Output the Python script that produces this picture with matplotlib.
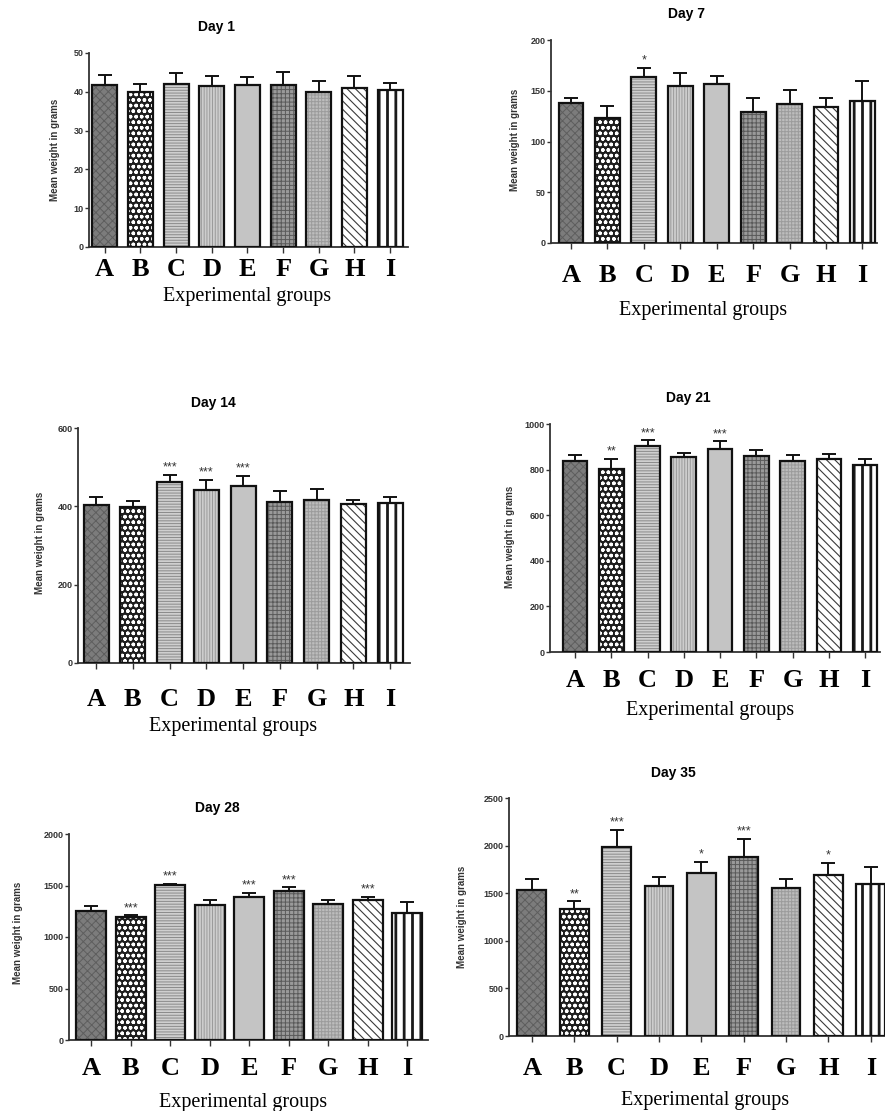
import numpy as np
import matplotlib.pyplot as plt

groups = ['A', 'B', 'C', 'D', 'E', 'F', 'G', 'H', 'I']

# mean weight (g) and upper SD
day1_mean = [41.7, 40.0, 42.1, 41.5, 41.7, 41.7, 39.9, 40.9, 40.4]
day1_err = [2.6, 2.1, 2.8, 2.6, 2.0, 3.5, 2.8, 3.1, 1.9]
day1_sig = ['', '', '', '', '', '', '', '', '']

day7_mean = [137.7, 123.6, 163.3, 155, 157, 129, 137, 134.4, 139.7]
day7_err = [4.9, 11.4, 9.5, 12, 8, 14, 14, 8.6, 19.6]
day7_sig = ['', '', '*', '', '', '', '', '', '']

day14_mean = [404, 399, 463, 442, 453, 411, 417, 407, 408]
day14_err = [21, 14, 17, 26, 25, 27, 26, 10, 15]
day14_sig = ['', '', '***', '***', '***', '', '', '', '']

day21_mean = [839, 802, 905, 855, 890, 858, 839, 847, 820]
day21_err = [26, 44, 23, 17, 34, 26, 25, 20, 26]
day21_sig = ['', '**', '***', '', '***', '', '', '', '']

day28_mean = [1248, 1190, 1501, 1313, 1384, 1449, 1322, 1361, 1232]
day28_err = [49, 19, 16, 48, 42, 32, 39, 26, 107]
day28_sig = ['', '***', '***', '', '***', '***', '', '***', '']

day35_mean = [1529, 1339, 1985, 1571, 1711, 1879, 1550, 1694, 1599]
day35_err = [122, 74, 182, 94, 116, 193, 98, 122, 175]
day35_sig = ['', '**', '***', '', '*', '***', '', '*', '']

# fill styles per group: face, hatch, hatch colour, hatch line width
faces = ['#7c7c7c', '#1e1e1e', '#cfcfcf', '#cdcdcd', '#c4c4c4', '#9a9a9a', '#bdbdbd', '#ffffff', '#ffffff']
hatches = ['xxxx', 'ooo', '------', '||||||', '', '++++', '+++++', '\\\\\\\\', '||']
hcolors = ['#5e5e5e', '#ffffff', '#8a8a8a', '#9a9a9a', '#c4c4c4', '#5a5a5a', '#9c9c9c', '#3a3a3a', '#1a1a1a']
hwidths = [0.7, 1.0, 0.7, 0.7, 0.7, 0.7, 0.7, 0.8, 2.0]

W, H = 885, 1111
fig = plt.figure(figsize=(W / 100, H / 100), dpi=100)

# (title, means, errs, sig, yticks, box px [l, r, top, bottom], xlim, bar width, letter pad,
#  title xy, xlabel xy, ylabel xy)
panels = [
    ('Day 1', day1_mean, day1_err, day1_sig, [0, 10, 20, 30, 40, 50],
     (89, 408, 53, 247), (-0.44, 8.5), 0.70, 4, (217, 27), (247, 296), (55, 150)),
    ('Day 7', day7_mean, day7_err, day7_sig, [0, 50, 100, 150, 200],
     (551, 877, 40, 243), (-0.55, 8.4), 0.68, 11, (687, 14), (703, 310), (515, 140)),
    ('Day 14', day14_mean, day14_err, day14_sig, [0, 200, 400, 600],
     (78, 410, 428, 663), (-0.49, 8.54), 0.68, 14, (213, 403), (233, 727), (40, 543)),
    ('Day 21', day21_mean, day21_err, day21_sig, [0, 200, 400, 600, 800, 1000],
     (550, 880, 424, 652), (-0.69, 8.41), 0.68, 8, (688, 398), (710, 710), (510, 537)),
    ('Day 28', day28_mean, day28_err, day28_sig, [0, 500, 1000, 1500, 2000],
     (69, 428, 834, 1040), (-0.56, 8.52), 0.76, 8, (217, 808), (243, 1102), (18, 933)),
    ('Day 35', day35_mean, day35_err, day35_sig, [0, 500, 1000, 1500, 2000, 2500],
     (509, 892, 798, 1036), (-0.54, 8.5), 0.68, 11, (673, 773), (705, 1100), (462, 917)),
]

x = np.arange(len(groups))
for title, mean, err, sig, yt, box, xl, w, pad, txy, xlxy, ylxy in panels:
    l, r, t, b = box
    ax = fig.add_axes([l / W, 1 - b / H, (r - l) / W, (b - t) / H])
    for i in x:
        with plt.rc_context({'hatch.linewidth': hwidths[i]}):
            ax.bar(i, mean[i], width=w, color=faces[i], hatch=hatches[i],
                   edgecolor=hcolors[i], linewidth=0, zorder=2)
    ax.bar(x, mean, width=w, fill=False, edgecolor='#111111', linewidth=1.6, zorder=3)
    ax.errorbar(x, mean, yerr=[np.zeros(len(x)), err], fmt='none', ecolor='#111111',
                elinewidth=1.4, capsize=5, capthick=1.4, zorder=1.5)
    for i in x:
        if sig[i]:
            ax.annotate(sig[i], (i, mean[i] + err[i]), xytext=(0, 1), textcoords='offset points',
                        ha='center', va='bottom', fontsize=9, color='#333333',
                        family='Liberation Sans')
    ax.set_xlim(*xl)
    ax.set_ylim(0, yt[-1])
    ax.set_yticks(yt)
    ax.set_yticklabels([str(v) for v in yt], fontsize=6.5, fontweight='bold',
                       family='Liberation Sans', color='#333333')
    ax.set_xticks(x)
    ax.set_xticklabels(groups, fontsize=19, fontweight='bold', family='Liberation Serif')
    ax.tick_params(axis='x', length=4, width=1, pad=pad, color='#333333')
    ax.tick_params(axis='y', length=3, width=1, pad=1, color='#333333')
    for s in ['top', 'right']:
        ax.spines[s].set_visible(False)
    for s in ['left', 'bottom']:
        ax.spines[s].set_linewidth(1.3)
        ax.spines[s].set_color('#333333')

    fig.text(txy[0] / W, 1 - txy[1] / H, title, ha='center', va='center', fontsize=10,
             fontweight='bold', family='Liberation Sans')
    fig.text(xlxy[0] / W, 1 - xlxy[1] / H, 'Experimental groups', ha='center', va='center',
             fontsize=14.5, family='Liberation Serif')
    fig.text(ylxy[0] / W, 1 - ylxy[1] / H, 'Mean weight in grams', ha='center', va='center',
             rotation=90, fontsize=7, fontweight='bold', family='Liberation Sans', color='#333333')

fig.savefig('out.png', dpi=100)
